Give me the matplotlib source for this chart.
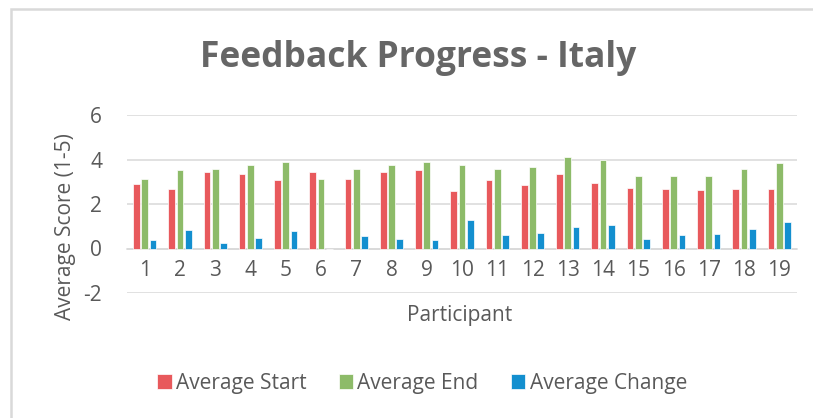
import matplotlib
matplotlib.use("Agg")
import matplotlib.pyplot as plt
from matplotlib.patches import Rectangle
import numpy as np

participants = [str(i) for i in range(1, 20)]
avg_start = [2.90, 2.68, 3.43, 3.37, 3.08, 3.43, 3.14, 3.44, 3.55, 2.57,
             3.08, 2.86, 3.37, 2.96, 2.74, 2.68, 2.63, 2.68, 2.68]
avg_end = [3.13, 3.55, 3.59, 3.77, 3.89, 3.13, 3.59, 3.77, 3.89, 3.77,
           3.59, 3.65, 4.12, 4.00, 3.25, 3.25, 3.25, 3.59, 3.83]
avg_change = [0.38, 0.83, 0.26, 0.48, 0.77, 0.0, 0.54, 0.44, 0.38, 1.29,
              0.60, 0.71, 0.95, 1.07, 0.44, 0.60, 0.66, 0.89, 1.17]
series_names = ["Average Start", "Average End", "Average Change"]
y_ticks = [-2, 0, 2, 4, 6]

plt.rcParams['font.family'] = ['Open Sans', 'DejaVu Sans']
W, H = 813, 418
fig = plt.figure(figsize=(W / 100, H / 100), dpi=100)
fig.patch.set_facecolor('white')

# outer chart border
fig.add_artist(Rectangle((11 / W, -0.2), 1.2, 1.2 - 9 / H, transform=fig.transFigure,
                         fill=False, edgecolor='#d9d9d9', linewidth=1.8))

ax = fig.add_axes([127 / W, 1 - 293 / H, 670 / W, 178 / H])
x = np.arange(len(participants))
colors = ['#E8595C', '#8DBB69', '#138FCF']
w = 0.19
off = 0.235
for i, (vals, c, name) in enumerate(zip([avg_start, avg_end, avg_change], colors, series_names)):
    ax.bar(x + (i - 1) * off, vals, width=w, color=c, label=name, zorder=3,
           edgecolor='white', linewidth=0.5)

fs = 15
ax.set_ylim(-2, 6)
ax.set_xlim(-0.5, len(participants) - 0.5)
ax.set_yticks(y_ticks)
ax.set_yticklabels([str(v) for v in y_ticks])
ax.grid(axis='y', color='#d9d9d9', linewidth=1.1, zorder=0)
for s in ['top', 'right', 'left']:
    ax.spines[s].set_visible(False)
ax.spines['bottom'].set_position(('data', 0))
ax.spines['bottom'].set_color('#d9d9d9')
ax.spines['bottom'].set_linewidth(1.1)
ax.set_xticks(x)
ax.set_xticklabels(participants)
ax.tick_params(axis='x', length=0, pad=8, labelsize=fs, labelcolor='#595959')
ax.tick_params(axis='y', length=0, pad=18, labelsize=fs, labelcolor='#595959')

ax.set_ylabel('Average Score (1-5)', fontsize=fs, color='#595959')
ax.yaxis.set_label_coords((65 - 127) / 670, (293 - 227) / 178)
ax.yaxis.label.set_verticalalignment('center')
fig.text(460 / W, 1 - 315 / H, 'Participant', ha='center', va='center',
         fontsize=fs, color='#595959')

fig.text(418 / W, 1 - 58 / H, 'Feedback Progress - Italy', ha='center', va='center',
         fontsize=25.5, fontweight='bold', color='#666666')

leg = fig.legend(loc='center', bbox_to_anchor=(422 / W, 1 - 383 / H), ncol=3, frameon=False,
                 fontsize=fs, handlelength=0.7, handleheight=0.7, handletextpad=0.2,
                 columnspacing=1.55)
for t in leg.get_texts():
    t.set_color('#595959')

fig.savefig('out.png', dpi=100)
